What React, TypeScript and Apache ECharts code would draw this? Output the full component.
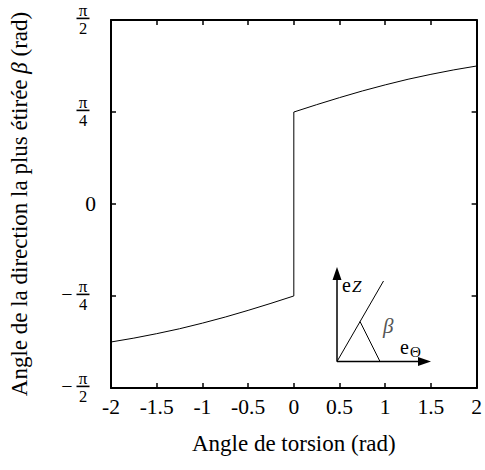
import React, { useEffect, useRef } from "react";
import * as echarts from "echarts";

const torsion = [-2, -1.75, -1.5, -1.25, -1, -0.75, -0.5, -0.25, 0, 0, 0.25, 0.5, 0.75, 1, 1.25, 1.5, 1.75, 2];
const beta = [-1.178, -1.145, -1.107, -1.065, -1.017, -0.965, -0.908, -0.848, -0.785, 0.785, 0.848, 0.908, 0.965, 1.017, 1.065, 1.107, 1.145, 1.178];
const xTicks = [-2, -1.5, -1, -0.5, 0, 0.5, 1, 1.5, 2];
const yTickValues = [-Math.PI / 2, -Math.PI / 4, 0, Math.PI / 4, Math.PI / 2];
const yTickLabels = ["−π/2", "−π/4", "0", "π/4", "π/2"];

const SERIF = "Liberation Serif";

export default function App() {
  const ref = useRef<HTMLDivElement>(null);
  useEffect(() => {
    if (!ref.current) return;
    const chart = echarts.init(ref.current, null, { renderer: "svg" });
    const axisLine = { show: true, onZero: false, lineStyle: { color: "#000", width: 2 } };
    const axisTick = { show: true, inside: true, length: 5, lineStyle: { color: "#000", width: 1.5 } };
    const data = torsion.map((t, i) => [t, beta[i]]);
    chart.setOption({
      animation: false,
      textStyle: { fontFamily: SERIF },
      grid: { left: 104, right: 7, top: 20, bottom: 82, containLabel: false },
      xAxis: [
        {
          type: "value", min: -2, max: 2, interval: 0.5, position: "bottom",
          axisLine, axisTick, splitLine: { show: false },
          axisLabel: { color: "#000", fontFamily: SERIF, fontSize: 21.5, margin: 8,
            formatter: (v: number) => { const i = xTicks.findIndex((t) => Math.abs(t - v) < 1e-6); return i >= 0 ? String(xTicks[i]) : ""; } },
          name: "Angle de torsion (rad)", nameLocation: "middle", nameGap: 44,
          nameTextStyle: { color: "#000", fontFamily: SERIF, fontSize: 23 },
        },
        {
          type: "value", min: -2, max: 2, interval: 0.5, position: "top",
          axisLine, axisTick, splitLine: { show: false }, axisLabel: { show: false },
        },
      ],
      yAxis: [
        {
          type: "value", min: -Math.PI / 2, max: Math.PI / 2, interval: Math.PI / 4, position: "left",
          axisLine, axisTick, splitLine: { show: false },
          axisLabel: {
            color: "#000", fontFamily: SERIF, fontSize: 21.5, margin: 15, align: "right",
            formatter: (v: number) => (Math.abs(v) < 1e-6 ? "0" : ""),
          },
          name: "Angle de la direction la plus étirée {b|β} (rad)", nameLocation: "middle", nameGap: 80, nameRotate: 90,
          nameTextStyle: { color: "#000", fontFamily: SERIF, fontSize: 23,
            rich: { b: { fontFamily: SERIF, fontSize: 23, fontStyle: "italic", color: "#000" } } },
        },
        {
          type: "value", min: -Math.PI / 2, max: Math.PI / 2, interval: Math.PI / 4, position: "right",
          axisLine, axisTick, splitLine: { show: false }, axisLabel: { show: false },
        },
      ],
      series: [
        {
          type: "line", data, showSymbol: false, symbol: "none", smooth: false,
          lineStyle: { color: "#000", width: 1 }, xAxisIndex: 0, yAxisIndex: 0,
        },
      ],
    });

    // fraction tick labels placed through the y axis scale
    const barEls: any[] = [];
    const fracEls: any[] = [];
    yTickValues.forEach((v, i) => {
      const lab = yTickLabels[i];
      if (lab === "0") return;
      const py = Math.round(chart.convertToPixel({ yAxisIndex: 0 }, v) as number);
      const neg = lab.startsWith("−");
      const den = lab.slice(lab.indexOf("/") + 1);
      const cx = 83;
      barEls.push({ type: "polygon", shape: { points: [[cx - 6.5, py - 2.4], [cx + 6.5, py - 2.4], [cx + 6.5, py - 0.8], [cx - 6.5, py - 0.8]] }, style: { fill: "#000" } });
      fracEls.push({ type: "text", x: cx, y: py - 9.5, style: { text: "π", font: "17px " + SERIF, fill: "#000", align: "center", verticalAlign: "middle" } });
      fracEls.push({ type: "text", x: cx, y: py + 8.5, style: { text: den, font: "16.5px " + SERIF, fill: "#000", align: "center", verticalAlign: "middle" } });
      if (neg) fracEls.push({ type: "text", x: 67, y: py - 2, style: { text: "−", font: "20px " + SERIF, fill: "#000", align: "center", verticalAlign: "middle" } });
    });

    const inset = [
      { type: "line", shape: { x1: 337, y1: 361.5, x2: 337, y2: 276 }, style: { stroke: "#000", lineWidth: 1.5 } },
      { type: "polygon", shape: { points: [[337, 267], [332.5, 280], [341.5, 280]] }, style: { fill: "#000" } },
      { type: "line", shape: { x1: 337, y1: 361.5, x2: 422, y2: 361.5 }, style: { stroke: "#000", lineWidth: 1.5 } },
      { type: "polygon", shape: { points: [[431, 361.5], [418, 357], [418, 366]] }, style: { fill: "#000" } },
      { type: "line", shape: { x1: 337, y1: 361.5, x2: 383.5, y2: 281 }, style: { stroke: "#000", lineWidth: 1 } },
      { type: "line", shape: { x1: 360, y1: 321.5, x2: 380, y2: 361.5 }, style: { stroke: "#000", lineWidth: 1 } },
      { type: "text", x: 342, y: 275, style: { text: "e", font: "20px " + SERIF, fill: "#000" } },
      { type: "text", x: 352, y: 278, style: { text: "Z", font: "italic 17px " + SERIF, fill: "#000" } },
      { type: "text", x: 383, y: 315, style: { text: "β", font: "italic 21px " + SERIF, fill: "#555" } },
      { type: "text", x: 400, y: 337, style: { text: "e", font: "20px " + SERIF, fill: "#000" } },
      { type: "text", x: 410, y: 344, style: { text: "Θ", font: "15px " + SERIF, fill: "#000" } },
    ];
    chart.setOption({ graphic: [...inset, ...barEls, ...fracEls] });
    return () => chart.dispose();
  }, []);
  return <div ref={ref} style={{ width: 485, height: 470, position: "absolute", left: 0, top: 0, background: "#fff" }} />;
}
